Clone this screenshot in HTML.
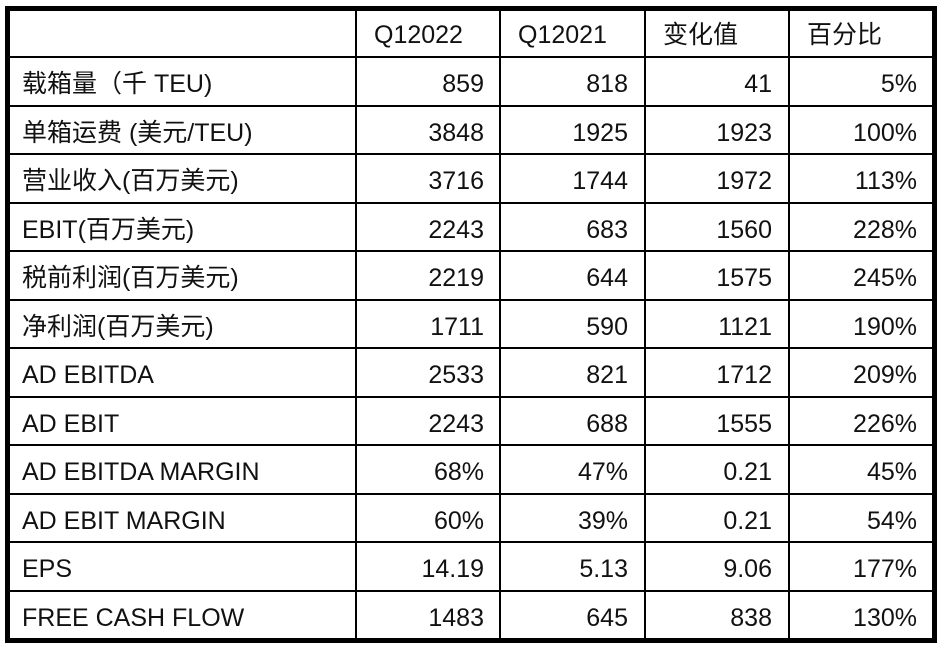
<!DOCTYPE html>
<html><head><meta charset="utf-8"><style>
body{margin:0;width:941px;height:649px;background:#fff;overflow:hidden;position:relative;font-family:"Liberation Sans","Noto Sans CJK SC",sans-serif;font-size:25px;color:#111}
.v{position:absolute;background:#000}
.t{position:absolute;height:48px;line-height:48px;white-space:nowrap}
.r{text-align:right}
</style></head><body>
<div class="v" style="left:5px;top:6px;width:931px;height:5px"></div>
<div class="v" style="left:5px;top:638px;width:931px;height:5px"></div>
<div class="v" style="left:5px;top:6px;width:5px;height:637px"></div>
<div class="v" style="left:932px;top:6px;width:5px;height:637px"></div>
<div class="v" style="left:355px;top:6px;width:2px;height:637px"></div>
<div class="v" style="left:499px;top:6px;width:2px;height:637px"></div>
<div class="v" style="left:644px;top:6px;width:2px;height:637px"></div>
<div class="v" style="left:788px;top:6px;width:2px;height:637px"></div>
<div id="rows"></div>
<script>
(function(){
var data=[["","Q12022","Q12021","变化值","百分比"],
["载箱量（千 TEU)","859","818","41","5%"],
["单箱运费 (美元/TEU)","3848","1925","1923","100%"],
["营业收入(百万美元)","3716","1744","1972","113%"],
["EBIT(百万美元)","2243","683","1560","228%"],
["税前利润(百万美元)","2219","644","1575","245%"],
["净利润(百万美元)","1711","590","1121","190%"],
["AD EBITDA","2533","821","1712","209%"],
["AD EBIT","2243","688","1555","226%"],
["AD EBITDA MARGIN","68%","47%","0.21","45%"],
["AD EBIT MARGIN","60%","39%","0.21","54%"],
["EPS","14.19","5.13","9.06","177%"],
["FREE CASH FLOW","1483","645","838","130%"]];
var h="";var L=[10,357,501,646,790],R=[355,484,628,772,917];
for(var i=0;i<data.length;i++){
 var yy=i==0?10:57+(i-1)*48.5;
 var cy=i==0?35:yy+27;
 if(i>0)h+='<div class="v" style="left:5px;top:'+(yy-1)+'px;width:931px;height:2px"></div>';
 for(var j=0;j<5;j++){
  var s=data[i][j];if(!s)continue;
  if(i==0||j==0){h+='<div class="t" style="left:'+(j==0?22:L[j]+17)+'px;top:'+(cy-24)+'px">'+s+'</div>';}
  else{h+='<div class="t r" style="right:'+(941-R[j])+'px;top:'+(cy-24)+'px">'+s+'</div>';}
 }
}
document.getElementById("rows").innerHTML=h;
})();
</script>
</body></html>
